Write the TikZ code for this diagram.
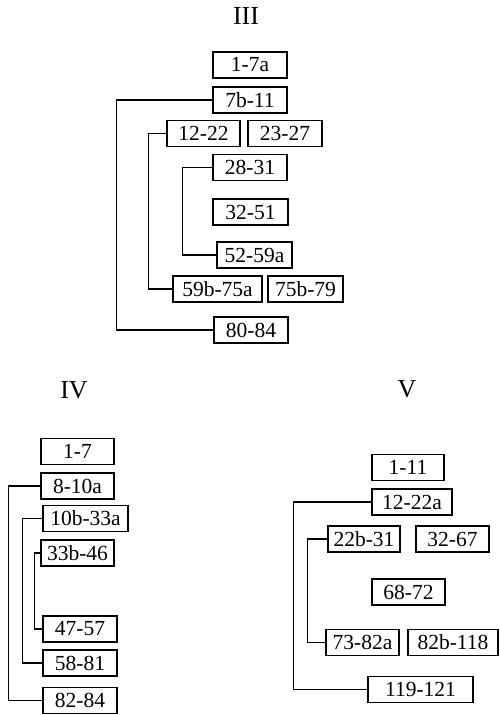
\documentclass[tikz,border=0pt]{standalone}
\usepackage{fontspec}
\setmainfont{Liberation Serif}
\begin{document}
\begin{tikzpicture}[x=1pt,y=-1pt,
  bx/.style={draw, line width=1.5pt, minimum height=26pt, inner sep=0pt, font=\fontsize{21.5}{23}\selectfont},
  ttl/.style={font=\fontsize{26}{28}\selectfont, inner sep=0pt},
  conn/.style={line width=1.3pt}]
\useasboundingbox (0,0) rectangle (499,715);
% ---- III ----
\node[ttl] (tIII) at (246,16) {III};
\node[bx, minimum width=74pt] (a1) at (250,65) {1-7a};
\node[bx, minimum width=74pt] (a2) at (250,100) {7b-11};
\node[bx, minimum width=73pt] (a3) at (203.5,133.5) {12-22};
\node[bx, minimum width=74pt] (a4) at (285,133.5) {23-27};
\node[bx, minimum width=74pt] (a5) at (250,167.5) {28-31};
\node[bx, minimum width=75pt] (a6) at (250.5,212) {32-51};
\node[bx, minimum width=75pt] (a7) at (254.5,255) {52-59a};
\node[bx, minimum width=89pt] (a8) at (217.5,289) {59b-75a};
\node[bx, minimum width=75pt] (a9) at (305.5,289) {75b-79};
\node[bx, minimum width=74pt] (a10) at (251,330) {80-84};
\draw[conn] (a2.west) -- ++(-96,0) |- (a10.west);
\draw[conn] (a3.west) -- ++(-18,0) |- (a8.west);
\draw[conn] (a5.west) -- ++(-30,0) |- (a7.west);
% ---- IV ----
\node[ttl] (tIV) at (74,390) {IV};
\node[bx, minimum width=73pt] (b1) at (77.5,451.5) {1-7};
\node[bx, minimum width=73pt] (b2) at (77.5,486) {8-10a};
\node[bx, minimum width=85pt] (b3) at (85.5,518.5) {10b-33a};
\node[bx, minimum width=73pt] (b4) at (77.5,553) {33b-46};
\node[bx, minimum width=74pt] (b5) at (80,629) {47-57};
\node[bx, minimum width=74pt] (b6) at (80,663) {58-81};
\node[bx, minimum width=74pt] (b7) at (80,700.5) {82-84};
\draw[conn] (b2.west) -- ++(-32,0) |- (b7.west);
\draw[conn] (b3.west) -- ++(-20,0) |- (b6.west);
\draw[conn] (b4.west) -- ++(-6,0) |- (b5.west);
% ---- V ----
\node[ttl] (tV) at (407,389) {V};
\node[bx, minimum width=72pt] (c1) at (408,467.5) {1-11};
\node[bx, minimum width=80pt] (c2) at (412,502) {12-22a};
\node[bx, minimum width=72pt] (c3) at (364,539) {22b-31};
\node[bx, minimum width=73pt] (c4) at (452.5,539) {32-67};
\node[bx, minimum width=73pt] (c5) at (408.5,592) {68-72};
\node[bx, minimum width=73pt] (c6) at (362.5,642.5) {73-82a};
\node[bx, minimum width=90pt] (c7) at (453,642.5) {82b-118};
\node[bx, minimum width=105pt] (c8) at (420.5,689.5) {119-121};
\draw[conn] (c2.west) -- ++(-78,0) |- (c8.west);
\draw[conn] (c3.west) -- ++(-20,0) |- (c6.west);
\end{tikzpicture}
\end{document}
